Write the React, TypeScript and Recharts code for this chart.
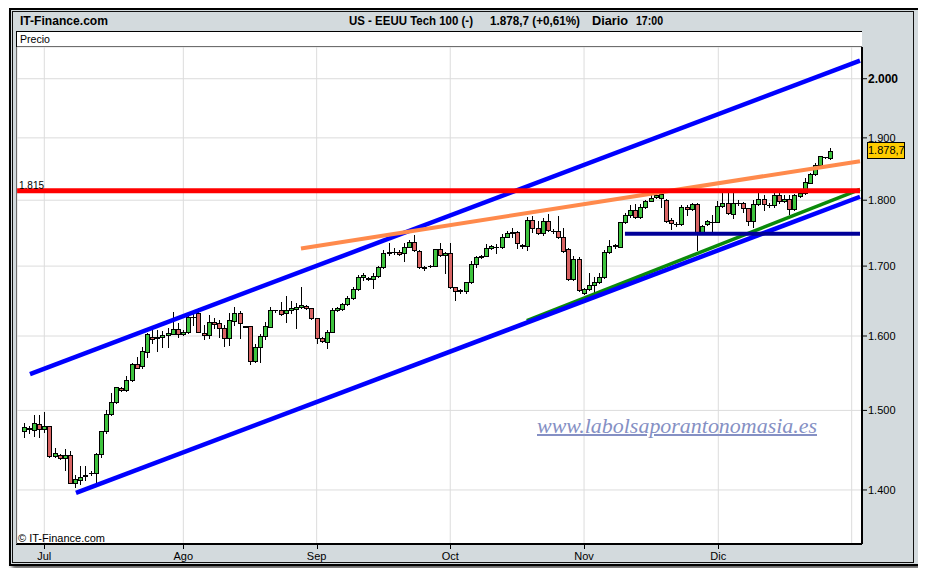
import React from 'react';
import { ComposedChart, Bar, XAxis, YAxis, CartesianGrid, ReferenceLine } from 'recharts';

// ---- Data ----
const opens = [
  1473.4, 1477, 1474.7, 1482, 1475.6, 1479.5, 1442.3, 1443.2, 1439.4, 1443.2,
  1408.9, 1412.2, 1417, 1420.5, 1421.2, 1444, 1473.8, 1494.9, 1510.6, 1529.1,
  1526.8, 1540.1, 1561.1, 1558.4, 1577.5, 1598.2, 1597, 1598.2, 1601.4, 1603.2,
  1609.4, 1602.4, 1605.2, 1626, 1631.9, 1603.8, 1601, 1620, 1617.8, 1610.8,
  1596.9, 1621, 1631.9, 1613.5, 1613.3, 1566, 1584.4, 1599.6, 1613, 1636,
  1636.1, 1631.9, 1636.5, 1637.5, 1640.3, 1642.2, 1638.9, 1624.8, 1596.9, 1592.1,
  1606, 1636.1, 1637.9, 1644.7, 1653.2, 1666.1, 1683.6, 1683, 1680.6, 1685.6,
  1698.3, 1720, 1720.5, 1721, 1719, 1728.9, 1736.4, 1722.9, 1698.5, 1699.5,
  1700.6, 1724.9, 1716.4, 1719, 1669, 1664.5, 1664.1, 1676.2, 1702.7, 1713,
  1715.4, 1726.5, 1728.5, 1728, 1744, 1749.2, 1751.6, 1730, 1730.4, 1769.4,
  1757.6, 1749.2, 1767.9, 1753, 1752.6, 1743, 1725.4, 1680.6, 1710, 1660.3,
  1666.1, 1672.4, 1677.1, 1683.6, 1720.4, 1729.2, 1728.9, 1765.9, 1777.2, 1784.3,
  1773.5, 1789.2, 1799.1, 1804.3, 1803.4, 1800.3, 1769.4, 1763, 1763.3, 1790,
  1786.4, 1793.7, 1751.6, 1762.8, 1766.5, 1766.8, 1791.5, 1795.3, 1778.2, 1795,
  1795.3, 1787.5, 1768.3, 1793.7, 1801.4, 1793, 1792.6, 1808.3, 1799.1, 1801.4,
  1786.3, 1806.8, 1811.3, 1827.5, 1841.4, 1855.8, 1868, 1866.9,
];
const highs = [
  1484.1, 1480, 1493.7, 1493.7, 1497.5, 1479.8, 1452.3, 1444, 1450.3, 1448.5,
  1418.9, 1429.9, 1429.9, 1423.3, 1445, 1474, 1500.5, 1522.4, 1531, 1530.4,
  1545.5, 1563.3, 1571.5, 1585.3, 1603.8, 1608.4, 1608.4, 1607.4, 1610.8, 1633.6,
  1617.8, 1608.4, 1634.1, 1634.1, 1638.9, 1615.4, 1629.4, 1624.8, 1622.4, 1615.4,
  1631.9, 1640.3, 1635.1, 1614, 1614, 1589, 1602.4, 1620, 1640.3, 1637.2,
  1648.3, 1656.9, 1649.3, 1646, 1669.4, 1643.6, 1639.8, 1625.6, 1599, 1608.4,
  1639.8, 1640.8, 1647, 1656.6, 1669, 1687.1, 1690.5, 1684, 1689.6, 1700.2,
  1723.9, 1734, 1726.5, 1723.9, 1734.9, 1738.9, 1746.5, 1723.9, 1700.2, 1701.2,
  1725.5, 1733.9, 1721.4, 1733.9, 1669.9, 1666.5, 1677.1, 1708, 1715, 1716.4,
  1733, 1731.5, 1733, 1747.7, 1753.2, 1756.8, 1752.7, 1733, 1774.5, 1776,
  1767.9, 1772, 1778.2, 1755.7, 1775.6, 1756.8, 1726.5, 1715, 1714, 1668.4,
  1689.6, 1684.6, 1689.6, 1723.9, 1738.9, 1733, 1766, 1779.9, 1792.6, 1793.7,
  1793.7, 1800.3, 1809.7, 1811, 1811.3, 1801.8, 1772, 1766.3, 1792.6, 1792.6,
  1795.3, 1795.3, 1761.8, 1769.4, 1777.2, 1799.1, 1811.3, 1811.3, 1811.3, 1800,
  1797.9, 1788.4, 1800.3, 1811.3, 1808.6, 1795.3, 1811.3, 1811.3, 1808.3, 1808.3,
  1809.4, 1813.7, 1834.6, 1843.5, 1858.6, 1871, 1869.5, 1883.6,
];
const lows = [
  1466.2, 1471, 1467.1, 1466.2, 1472.2, 1440.3, 1441, 1438.5, 1424.5, 1408,
  1404, 1407, 1412.2, 1418, 1408.9, 1441, 1470.6, 1493.6, 1509.3, 1525.5,
  1525.9, 1538.8, 1556, 1556.5, 1571.5, 1589.9, 1579.7, 1585.3, 1585.3, 1602.4,
  1599, 1601.4, 1603.8, 1615.4, 1605, 1595.5, 1596.9, 1610.8, 1599, 1586.7,
  1587.6, 1615.4, 1596.9, 1612, 1561.5, 1563.7, 1564.6, 1595.5, 1612, 1634.3,
  1629.4, 1620, 1631.9, 1610.8, 1638.9, 1637.9, 1623.8, 1589.9, 1591.3, 1584,
  1605.2, 1635.1, 1636.9, 1643.6, 1652.2, 1665.1, 1679.6, 1679.6, 1667.5, 1683.6,
  1696.8, 1716.4, 1718, 1716.5, 1708, 1728, 1722.9, 1696.8, 1694.3, 1698.7,
  1699.5, 1714.9, 1690.3, 1668.5, 1650.7, 1661.3, 1661.3, 1675.6, 1699.2, 1712,
  1715, 1725.4, 1719, 1726.5, 1743.1, 1744, 1726.5, 1727.6, 1723.9, 1751.6,
  1747.7, 1746.5, 1753.2, 1749.6, 1741.5, 1721.4, 1679.6, 1679.6, 1663.6, 1659.3,
  1665.1, 1662.6, 1674.7, 1682.1, 1719, 1727, 1728.4, 1764.8, 1774.5, 1772,
  1772, 1787.7, 1798, 1803, 1790, 1766.9, 1755.2, 1760.2, 1761.8, 1777.2,
  1784.8, 1723.9, 1750.1, 1761.8, 1751.6, 1765.9, 1790, 1778.6, 1772.5, 1792.5,
  1782.3, 1761.8, 1758.3, 1792.6, 1784.8, 1790, 1790, 1795.3, 1797.1, 1778.6,
  1784.8, 1805.6, 1810, 1826.5, 1839.8, 1854.2, 1867, 1865.6,
];
const closes = [
  1478.2, 1476, 1483.3, 1475.6, 1479.5, 1441.5, 1445.3, 1439.4, 1443.2, 1408.9,
  1413.1, 1416.3, 1418, 1421, 1444, 1473.4, 1494.9, 1510.6, 1530.4, 1526.4,
  1540.1, 1561.1, 1556.5, 1579.3, 1602.4, 1595.5, 1598, 1601.4, 1604.2, 1609.8,
  1602.8, 1605.2, 1627, 1627, 1605.2, 1601, 1620, 1617.2, 1610.8, 1596.9,
  1622, 1631.9, 1617.8, 1612.5, 1566, 1584.4, 1600, 1614, 1636.5, 1636.5,
  1630.4, 1636.5, 1639.8, 1641.2, 1643.6, 1638.9, 1624.8, 1596.9, 1593.1, 1606,
  1636.5, 1638.9, 1644.7, 1653.2, 1666.1, 1683.6, 1686.6, 1680.6, 1685.6, 1698.3,
  1719, 1720.5, 1721.5, 1718.4, 1728.9, 1736.4, 1723.9, 1698.3, 1697.5, 1700.5,
  1724.9, 1716.4, 1719, 1669, 1663.6, 1663.5, 1676.2, 1702.7, 1714, 1715.4,
  1727.4, 1730, 1729, 1744, 1749.2, 1751.6, 1734.8, 1731, 1769.4, 1757.6,
  1749.2, 1767.9, 1754.1, 1752.5, 1743, 1722.9, 1680.6, 1710, 1665.1, 1666.1,
  1672.4, 1677.1, 1683.6, 1720.4, 1730.4, 1730.7, 1765.9, 1777.2, 1784.3, 1773.5,
  1789.2, 1799.1, 1803.4, 1808.6, 1810.3, 1767.9, 1764.4, 1762.5, 1790, 1786.4,
  1793.7, 1751.6, 1760.3, 1767.9, 1767, 1791.5, 1795.3, 1779.7, 1795.3, 1795.5,
  1787.5, 1768.3, 1793.7, 1801.4, 1793.7, 1792.5, 1808.3, 1798, 1801.8, 1786.3,
  1808.3, 1811.3, 1828.6, 1841.4, 1855.8, 1870.7, 1869, 1878.7,
];

const monthTicks = [3.89, 30.95, 56.9, 82.9, 108.94, 135.07, 161.03];
const monthLabels = ['Jul', 'Ago', 'Sep', 'Oct', 'Nov', 'Dic', ''];
const priceTicks = [1400, 1500, 1600, 1700, 1800, 1900, 2000];
const xDomain = [-1.42, 163.04];
const yDomain = [1335.9, 2055.8];

// trend lines: [startIndex, startPrice, endIndex, endPrice]
const upperChannel = [1.11, 1548.1, 162.65, 2031.5];
const lowerChannel = [10.06, 1396.4, 162.65, 1805.4];
const orangeTrend = [53.85, 1726.3, 162.65, 1862];
const greenTrend = [97.8, 1621.5, 162.65, 1817];
const redLevel = [-1.4, 1815, 162.65, 1815];
const navyLevel = [116.9, 1748.3, 162.65, 1748.3];

const lastPrice = '1.878,7';

const data = opens.map((o, i) => ({
  i,
  open: o,
  high: highs[i],
  low: lows[i],
  close: closes[i],
  range: [lows[i], highs[i]],
}));

const fmt = (v: number) => {
  const s = String(Math.round(v));
  return s.length > 3 ? s.slice(0, s.length - 3) + '.' + s.slice(s.length - 3) : s;
};

const Candle = (props: any) => {
  const { x, y, width, height, payload } = props;
  if (x == null || y == null || !payload) return null;
  const { open, high, low, close } = payload;
  const lh = Math.log(high);
  const ll = Math.log(low);
  const span = lh - ll;
  const yOf = (p: number) => (span > 0 ? y + ((lh - Math.log(p)) / span) * height : y);
  const px = Math.round(x + width / 2 - 0.5);
  const wx = px + 0.5;
  const yHigh = Math.round(y);
  const yLow = Math.round(y + height);
  const yo = yOf(open);
  const yc = yOf(close);
  const top = Math.round(Math.min(yo, yc)) + 0.5;
  const bot = Math.round(Math.max(yo, yc)) + 0.5;
  const up = close >= open;
  return (
    <g>
      <line x1={wx} x2={wx} y1={yHigh} y2={yLow + 1} stroke="#000" strokeWidth={1} />
      {bot - top < 1 ? (
        <line x1={px - 2} x2={px + 3} y1={top} y2={top} stroke="#000" strokeWidth={1} />
      ) : (
        <rect
          x={px - 1.5}
          y={top}
          width={4}
          height={bot - top}
          fill={up ? '#3ec43e' : '#d96464'}
          stroke="#000"
          strokeWidth={1}
        />
      )}
    </g>
  );
};

const YTick = (props: any) => {
  const { x, y, payload } = props;
  const v = payload.value;
  const bold = v === 2000;
  return (
    <text
      x={x}
      y={y}
      dy="0.36em"
      textAnchor="start"
      fontFamily="'Liberation Sans', Arial, sans-serif"
      fontSize={bold ? 12 : 11}
      fontWeight={bold ? 'bold' : 'normal'}
      fill="#000"
    >
      {fmt(v)}
    </text>
  );
};

const XTick = (props: any) => {
  const { x, payload } = props;
  const idx = monthTicks.indexOf(payload.value);
  const label = monthLabels[idx] ?? '';
  if (!label) return null;
  const px = Math.round(x) + 0.5;
  return (
    <g>
      <line x1={px} x2={px} y1={545} y2={549} stroke="#000" strokeWidth={1} />
      <text
        x={x}
        y={560}
        textAnchor="middle"
        fontFamily="'Liberation Sans', Arial, sans-serif"
        fontSize={11}
        fill="#000"
      >
        {label}
      </text>
    </g>
  );
};

const seg = (a: number[]) => [
  { x: a[0], y: a[1] },
  { x: a[2], y: a[3] },
];

export default function App() {
  const W = 926;
  const H = 576;
  return (
    <div
      style={{
        position: 'relative',
        width: W,
        height: H,
        margin: -8,
        background: '#fff',
        overflow: 'hidden',
        fontFamily: "'Liberation Sans', Arial, sans-serif",
      }}
    >
      {/* outer frame */}
      <div
        style={{
          position: 'absolute',
          left: 9,
          top: 8,
          width: 907,
          height: 554,
          border: '2px solid #000',
          background: '#d3dadd',
          boxShadow: '3px 3px 4px rgba(0,0,0,0.65)',
        }}
      />
      <div
        style={{
          position: 'absolute',
          left: 12,
          top: 11,
          width: 900,
          height: 550,
          border: '1px solid #111',
        }}
      />
      {/* white plot box */}
      <div
        style={{
          position: 'absolute',
          left: 16,
          top: 31,
          width: 846,
          height: 514,
          background: '#fff',
          borderLeft: '1px solid #000',
          borderTop: '1px solid #000',
          boxSizing: 'border-box',
        }}
      />
      <div style={{ position: 'absolute', left: 16, top: 46, width: 846, height: 1, background: '#000' }} />

      <div style={{ position: 'absolute', left: 0, top: 0 }}>
        <ComposedChart
          width={W}
          height={H}
          data={data}
          margin={{ top: 47, right: 0, bottom: 0, left: 17 }}
        >
          <CartesianGrid stroke="#dcdcdc" strokeWidth={1} />
          <XAxis
            dataKey="i"
            type="number"
            domain={xDomain}
            allowDataOverflow
            ticks={monthTicks}
            interval={0}
            height={32}
            tickLine={false}
            axisLine={{ stroke: '#000', strokeWidth: 2 }}
            tick={<XTick />}
          />
          <YAxis
            orientation="right"
            type="number"
            scale="log"
            domain={yDomain}
            allowDataOverflow
            ticks={priceTicks}
            interval={0}
            width={64}
            tickSize={5}
            tickMargin={1}
            axisLine={{ stroke: '#000', strokeWidth: 2 }}
            tickLine={{ stroke: '#000' }}
            tick={<YTick />}
          />
          <Bar
            dataKey="range"
            barSize={5}
            isAnimationActive={false}
            shape={<Candle />}
          />
          <ReferenceLine segment={seg(greenTrend)} stroke="#0a8a0a" strokeWidth={3.5} ifOverflow="visible" />
          <ReferenceLine segment={seg(lowerChannel)} stroke="#0000ff" strokeWidth={4.5} ifOverflow="visible" />
          <ReferenceLine segment={seg(upperChannel)} stroke="#0000ff" strokeWidth={4.5} ifOverflow="visible" />
          <ReferenceLine segment={seg(orangeTrend)} stroke="#ff8a4c" strokeWidth={4} ifOverflow="visible" />
          <ReferenceLine segment={seg(navyLevel)} stroke="#000099" strokeWidth={4} ifOverflow="visible" />
          <ReferenceLine segment={seg(redLevel)} stroke="#ff0000" strokeWidth={5} ifOverflow="visible" />
        </ComposedChart>
      </div>

      {/* texts */}
      <svg
        width={W}
        height={H}
        style={{ position: 'absolute', left: 0, top: 0, pointerEvents: 'none' }}
      >
        <text x={20} y={25} fontSize={13} fontWeight="bold" textLength={88} lengthAdjust="spacingAndGlyphs"
          fontFamily="'Liberation Sans Narrow', 'Liberation Sans', Arial, sans-serif" fill="#000">
          IT-Finance.com
        </text>
        <text x={349} y={25} fontSize={13} fontWeight="bold" textLength={124} lengthAdjust="spacingAndGlyphs"
          fontFamily="'Liberation Sans Narrow', 'Liberation Sans', Arial, sans-serif" fill="#000">
          US - EEUU Tech 100 (-)
        </text>
        <text x={490} y={25} fontSize={13} fontWeight="bold" textLength={90} lengthAdjust="spacingAndGlyphs"
          fontFamily="'Liberation Sans Narrow', 'Liberation Sans', Arial, sans-serif" fill="#000">
          1.878,7 (+0,61%)
        </text>
        <text x={592} y={25} fontSize={13} fontWeight="bold" textLength={36} lengthAdjust="spacingAndGlyphs"
          fontFamily="'Liberation Sans Narrow', 'Liberation Sans', Arial, sans-serif" fill="#000">
          Diario
        </text>
        <text x={636} y={25} fontSize={13} fontWeight="bold" textLength={27} lengthAdjust="spacingAndGlyphs"
          fontFamily="'Liberation Sans Narrow', 'Liberation Sans', Arial, sans-serif" fill="#000">
          17:00
        </text>
        <text x={20} y={43} fontSize={10} textLength={30} lengthAdjust="spacingAndGlyphs"
          fontFamily="'Liberation Sans Narrow', 'Liberation Sans', Arial, sans-serif" fill="#000">
          Precio
        </text>
        <text x={19} y={189} fontSize={10} fill="#000" fontFamily="'Liberation Sans', Arial, sans-serif">
          1.815
        </text>
        <text x={18} y={541.5} fontSize={11} fill="#000" fontFamily="'Liberation Sans', Arial, sans-serif">
          © IT-Finance.com
        </text>
        <text x={537} y={433} fontSize={20} fontStyle="italic" textLength={280} lengthAdjust="spacingAndGlyphs"
          fontFamily="'Liberation Serif', 'DejaVu Serif', serif" fill="#8590c4" style={{ textDecoration: 'underline' }}>
          www.labolsaporantonomasia.es
        </text>
      </svg>

      {/* last price tag */}
      <div
        style={{
          position: 'absolute',
          left: 867,
          top: 142,
          width: 38,
          height: 17,
          boxSizing: 'border-box',
          background: '#ffcc00',
          border: '1px solid #000',
          fontSize: 11,
          lineHeight: '15px',
          textAlign: 'center',
          color: '#000',
          fontFamily: "'Liberation Sans', Arial, sans-serif",
        }}
      >
        {lastPrice}
      </div>
    </div>
  );
}
